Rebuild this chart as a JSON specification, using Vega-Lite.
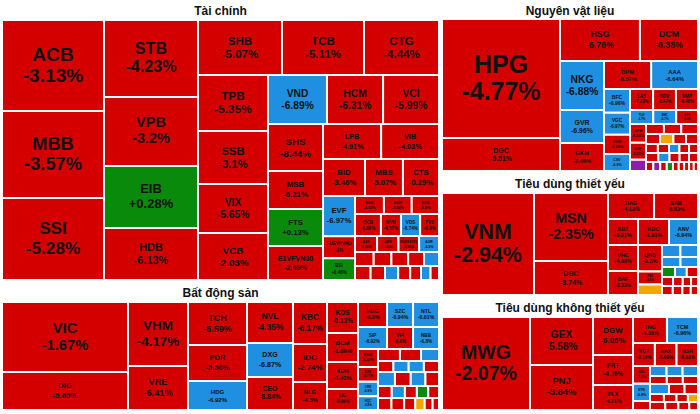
{
"$schema":"https://vega.github.io/schema/vega-lite/v6.json",
"padding":{"left":2,"top":2,"right":2,"bottom":2},
"background":"#ffffff",
"spacing":3,
"resolve":{"scale":{"color":"shared"}},
"config":{"locale":{"number":{"decimal":".","thousands":",","grouping":[3],"currency":["$",""],"minus":"-"}},"view":{"fill":"#f2f2f2","stroke":null},"axis":{"disable":true},"legend":{"disable":true},"range":{"category":["#8b1fa9","#d40000","#1e8fe1","#f7a600","#0a8a0a"]},"text":{"font":"Liberation Sans","fontWeight":"bold","fill":"#111111"},"rect":{"stroke":"#ffffff","strokeWidth":2}},
"data":{"values":[
{"s":"Tài chính","t":"ACB","v":9280,"c":-0.0313,"st":"d"},
{"s":"Tài chính","t":"MBB","v":8870,"c":-0.0357,"st":"d"},
{"s":"Tài chính","t":"SSI","v":8360,"c":-0.0528,"st":"d"},
{"s":"Tài chính","t":"STB","v":7240,"c":-0.0423,"st":"d"},
{"s":"Tài chính","t":"VPB","v":6490,"c":-0.032,"st":"d"},
{"s":"Tài chính","t":"EIB","v":5830,"c":0.0028,"st":"u"},
{"s":"Tài chính","t":"HDB","v":4890,"c":-0.0613,"st":"d"},
{"s":"Tài chính","t":"SHB","v":4620,"c":-0.0507,"st":"d"},
{"s":"Tài chính","t":"TCB","v":4510,"c":-0.0511,"st":"d"},
{"s":"Tài chính","t":"CTG","v":4125,"c":-0.0444,"st":"d"},
{"s":"Tài chính","t":"TPB","v":3920,"c":-0.0535,"st":"d"},
{"s":"Tài chính","t":"SSB","v":3710,"c":-0.031,"st":"d"},
{"s":"Tài chính","t":"VIX","v":3430,"c":-0.0565,"st":"d"},
{"s":"Tài chính","t":"VCB","v":3290,"c":-0.0203,"st":"d"},
{"s":"Tài chính","t":"VND","v":2890,"c":-0.0689,"st":"f"},
{"s":"Tài chính","t":"HCM","v":2750,"c":-0.0631,"st":"d"},
{"s":"Tài chính","t":"VCI","v":2740,"c":-0.0599,"st":"d"},
{"s":"Tài chính","t":"SHS","v":2585,"c":-0.0844,"st":"d"},
{"s":"Tài chính","t":"MSB","v":2090,"c":-0.0621,"st":"d"},
{"s":"Tài chính","t":"FTS","v":2035,"c":0.0013,"st":"u"},
{"s":"Tài chính","t":"E1VFVN30","v":1870,"c":-0.0269,"st":"d"},
{"s":"Tài chính","t":"LPB","v":1860,"c":-0.0491,"st":"d"},
{"s":"Tài chính","t":"VIB","v":1850,"c":-0.0403,"st":"d"},
{"s":"Tài chính","t":"BID","v":1550,"c":-0.0346,"st":"d"},
{"s":"Tài chính","t":"MBS","v":1400,"c":-0.0507,"st":"d"},
{"s":"Tài chính","t":"CTS","v":1330,"c":-0.0029,"st":"d"},
{"s":"Tài chính","t":"EVF","v":1280,"c":-0.0697,"st":"f"},
{"s":"Tài chính","t":"FUEVFVND","v":700,"c":-0.03,"st":"d"},
{"s":"Tài chính","t":"BSI","v":690,"c":0.0046,"st":"u"},
{"s":"Tài chính","t":"NAB","v":520,"c":-0.0492,"st":"d"},
{"s":"Tài chính","t":"BVH","v":500,"c":-0.0384,"st":"d"},
{"s":"Tài chính","t":"BVS","v":490,"c":-0.058,"st":"d"},
{"s":"Tài chính","t":"OCB","v":440,"c":-0.0666,"st":"d"},
{"s":"Tài chính","t":"BVB","v":340,"c":-0.0657,"st":"d"},
{"s":"Tài chính","t":"VDS","v":325,"c":-0.0674,"st":"f"},
{"s":"Tài chính","t":"TVS","v":320,"c":-0.069,"st":"d"},
{"s":"Tài chính","t":"AAS","v":300,"c":-0.0686,"st":"d"},
{"s":"Tài chính","t":"ABB","v":290,"c":-0.065,"st":"d"},
{"s":"Tài chính","t":"FUESSVFL","v":280,"c":-0.0585,"st":"d"},
{"s":"Tài chính","t":"AGR","v":270,"c":-0.069,"st":"f"},
{"s":"Tài chính","t":"MIG","v":200,"c":-0.06,"st":"d"},
{"s":"Tài chính","t":"PVI","v":190,"c":-0.05,"st":"d"},
{"s":"Tài chính","t":"KLB","v":180,"c":-0.05,"st":"d"},
{"s":"Tài chính","t":"BIC","v":170,"c":-0.06,"st":"d"},
{"s":"Tài chính","t":"VAB","v":160,"c":-0.068,"st":"f"},
{"s":"Tài chính","t":"NVB","v":130,"c":-0.07,"st":"d"},
{"s":"Tài chính","t":"SGB","v":120,"c":-0.05,"st":"d"},
{"s":"Tài chính","t":"PGI","v":110,"c":-0.069,"st":"f"},
{"s":"Tài chính","t":"TVB","v":100,"c":-0.06,"st":"d"},
{"s":"Tài chính","t":"BMI","v":90,"c":-0.06,"st":"d"},
{"s":"Tài chính","t":"ORS","v":80,"c":-0.069,"st":"f"},
{"s":"Tài chính","t":"APG","v":70,"c":-0.06,"st":"d"},
{"s":"Bất động sản","t":"VIC","v":8820,"c":-0.0167,"st":"d"},
{"s":"Bất động sản","t":"DIG","v":4790,"c":-0.0565,"st":"d"},
{"s":"Bất động sản","t":"VHM","v":3840,"c":-0.0417,"st":"d"},
{"s":"Bất động sản","t":"VRE","v":2640,"c":-0.0641,"st":"d"},
{"s":"Bất động sản","t":"TCH","v":2540,"c":-0.0659,"st":"d"},
{"s":"Bất động sản","t":"PDR","v":2125,"c":-0.0556,"st":"d"},
{"s":"Bất động sản","t":"HDG","v":1710,"c":-0.0692,"st":"f"},
{"s":"Bất động sản","t":"NVL","v":1700,"c":-0.0435,"st":"d"},
{"s":"Bất động sản","t":"DXG","v":1410,"c":-0.0687,"st":"f"},
{"s":"Bất động sản","t":"CEO","v":1370,"c":-0.0884,"st":"d"},
{"s":"Bất động sản","t":"KBC","v":1360,"c":-0.0617,"st":"d"},
{"s":"Bất động sản","t":"IDC","v":1230,"c":-0.0274,"st":"d"},
{"s":"Bất động sản","t":"NLG","v":905,"c":-0.043,"st":"d"},
{"s":"Bất động sản","t":"KOS","v":900,"c":-0.0013,"st":"d"},
{"s":"Bất động sản","t":"BCM","v":842,"c":-0.0189,"st":"d"},
{"s":"Bất động sản","t":"KDH","v":784,"c":-0.0143,"st":"d"},
{"s":"Bất động sản","t":"LIC","v":610,"c":-0.0699,"st":"d"},
{"s":"Bất động sản","t":"HDC","v":600,"c":-0.065,"st":"d"},
{"s":"Bất động sản","t":"SZC","v":538,"c":-0.0694,"st":"f"},
{"s":"Bất động sản","t":"NTL","v":536,"c":-0.0681,"st":"f"},
{"s":"Bất động sản","t":"SIP","v":530,"c":-0.0692,"st":"f"},
{"s":"Bất động sản","t":"VPI","v":475,"c":-0.066,"st":"d"},
{"s":"Bất động sản","t":"NBB","v":473,"c":-0.068,"st":"f"},
{"s":"Bất động sản","t":"KHG","v":340,"c":-0.0661,"st":"d"},
{"s":"Bất động sản","t":"DXS","v":280,"c":-0.0677,"st":"d"},
{"s":"Bất động sản","t":"CRE","v":275,"c":-0.069,"st":"f"},
{"s":"Bất động sản","t":"HQC","v":260,"c":-0.068,"st":"f"},
{"s":"Bất động sản","t":"NHA","v":250,"c":-0.06,"st":"d"},
{"s":"Bất động sản","t":"ITC","v":240,"c":-0.06,"st":"d"},
{"s":"Bất động sản","t":"TDC","v":205,"c":-0.069,"st":"f"},
{"s":"Bất động sản","t":"SCR","v":165,"c":-0.06,"st":"d"},
{"s":"Bất động sản","t":"HPX","v":164,"c":-0.069,"st":"f"},
{"s":"Bất động sản","t":"QCG","v":163,"c":-0.069,"st":"f"},
{"s":"Bất động sản","t":"DRH","v":162,"c":-0.06,"st":"d"},
{"s":"Bất động sản","t":"LDG","v":150,"c":-0.069,"st":"f"},
{"s":"Bất động sản","t":"CKG","v":140,"c":-0.06,"st":"d"},
{"s":"Bất động sản","t":"NTC","v":130,"c":-0.069,"st":"f"},
{"s":"Bất động sản","t":"AGG","v":120,"c":-0.06,"st":"d"},
{"s":"Bất động sản","t":"HAR","v":115,"c":-0.06,"st":"d"},
{"s":"Bất động sản","t":"TIG","v":110,"c":-0.069,"st":"f"},
{"s":"Bất động sản","t":"DPG","v":100,"c":-0.06,"st":"d"},
{"s":"Bất động sản","t":"VRC","v":95,"c":0.02,"st":"u"},
{"s":"Bất động sản","t":"SJS","v":90,"c":-0.06,"st":"d"},
{"s":"Bất động sản","t":"PTL","v":85,"c":-0.06,"st":"d"},
{"s":"Bất động sản","t":"API","v":80,"c":-0.06,"st":"d"},
{"s":"Bất động sản","t":"HLD","v":70,"c":-0.06,"st":"d"},
{"s":"Bất động sản","t":"IJC","v":60,"c":0,"st":"r"},
{"s":"Bất động sản","t":"D2D","v":50,"c":-0.06,"st":"d"},
{"s":"Bất động sản","t":"LGL","v":40,"c":-0.06,"st":"d"},
{"s":"Nguyên vật liệu","t":"HPG","v":14040,"c":-0.0477,"st":"d"},
{"s":"Nguyên vật liệu","t":"DGC","v":3890,"c":-0.0551,"st":"d"},
{"s":"Nguyên vật liệu","t":"HSG","v":3360,"c":-0.0676,"st":"d"},
{"s":"Nguyên vật liệu","t":"DCM","v":2440,"c":-0.0638,"st":"d"},
{"s":"Nguyên vật liệu","t":"NKG","v":2160,"c":-0.0688,"st":"f"},
{"s":"Nguyên vật liệu","t":"GVR","v":1450,"c":-0.0696,"st":"f"},
{"s":"Nguyên vật liệu","t":"GKM","v":1230,"c":-0.0246,"st":"d"},
{"s":"Nguyên vật liệu","t":"DPM","v":1220,"c":-0.0657,"st":"d"},
{"s":"Nguyên vật liệu","t":"AAA","v":1210,"c":-0.0664,"st":"f"},
{"s":"Nguyên vật liệu","t":"BFC","v":620,"c":-0.0696,"st":"f"},
{"s":"Nguyên vật liệu","t":"VGC","v":570,"c":-0.0697,"st":"f"},
{"s":"Nguyên vật liệu","t":"VGS","v":500,"c":-0.0659,"st":"d"},
{"s":"Nguyên vật liệu","t":"CSV","v":440,"c":-0.069,"st":"f"},
{"s":"Nguyên vật liệu","t":"LAS","v":430,"c":-0.0723,"st":"d"},
{"s":"Nguyên vật liệu","t":"DDV","v":425,"c":-0.0647,"st":"d"},
{"s":"Nguyên vật liệu","t":"BMP","v":410,"c":-0.0648,"st":"d"},
{"s":"Nguyên vật liệu","t":"TLH","v":320,"c":-0.067,"st":"f"},
{"s":"Nguyên vật liệu","t":"SMC","v":315,"c":-0.067,"st":"f"},
{"s":"Nguyên vật liệu","t":"HT1","v":300,"c":-0.068,"st":"d"},
{"s":"Nguyên vật liệu","t":"APH","v":295,"c":-0.0666,"st":"d"},
{"s":"Nguyên vật liệu","t":"DHP","v":265,"c":-0.0501,"st":"d"},
{"s":"Nguyên vật liệu","t":"TNI","v":175,"c":0.069,"st":"c"},
{"s":"Nguyên vật liệu","t":"HAP","v":150,"c":-0.06,"st":"d"},
{"s":"Nguyên vật liệu","t":"NHH","v":145,"c":-0.06,"st":"d"},
{"s":"Nguyên vật liệu","t":"TDP","v":140,"c":-0.06,"st":"d"},
{"s":"Nguyên vật liệu","t":"PHR","v":100,"c":-0.06,"st":"d"},
{"s":"Nguyên vật liệu","t":"DPR","v":95,"c":0,"st":"r"},
{"s":"Nguyên vật liệu","t":"DHA","v":90,"c":-0.06,"st":"d"},
{"s":"Nguyên vật liệu","t":"TVN","v":85,"c":-0.06,"st":"d"},
{"s":"Nguyên vật liệu","t":"CSM","v":80,"c":-0.06,"st":"d"},
{"s":"Nguyên vật liệu","t":"DRC","v":75,"c":-0.06,"st":"d"},
{"s":"Nguyên vật liệu","t":"TLD","v":70,"c":-0.069,"st":"f"},
{"s":"Nguyên vật liệu","t":"SVT","v":65,"c":-0.06,"st":"d"},
{"s":"Nguyên vật liệu","t":"HII","v":60,"c":-0.06,"st":"d"},
{"s":"Nguyên vật liệu","t":"PTB","v":55,"c":-0.06,"st":"d"},
{"s":"Nguyên vật liệu","t":"VCA","v":50,"c":-0.069,"st":"f"},
{"s":"Nguyên vật liệu","t":"NNC","v":45,"c":-0.06,"st":"d"},
{"s":"Nguyên vật liệu","t":"ACC","v":42,"c":-0.06,"st":"d"},
{"s":"Nguyên vật liệu","t":"TRC","v":40,"c":-0.06,"st":"d"},
{"s":"Nguyên vật liệu","t":"KSB","v":38,"c":-0.06,"st":"d"},
{"s":"Nguyên vật liệu","t":"SFG","v":36,"c":0.069,"st":"c"},
{"s":"Nguyên vật liệu","t":"HVX","v":34,"c":-0.06,"st":"d"},
{"s":"Nguyên vật liệu","t":"TSC","v":32,"c":0.02,"st":"u"},
{"s":"Nguyên vật liệu","t":"PLP","v":30,"c":-0.06,"st":"d"},
{"s":"Nguyên vật liệu","t":"QBS","v":28,"c":-0.06,"st":"d"},
{"s":"Nguyên vật liệu","t":"TNT","v":26,"c":-0.06,"st":"d"},
{"s":"Nguyên vật liệu","t":"VID","v":24,"c":-0.06,"st":"d"},
{"s":"Nguyên vật liệu","t":"YBM","v":22,"c":-0.06,"st":"d"},
{"s":"Tiêu dùng thiết yếu","t":"VNM","v":9380,"c":-0.0294,"st":"d"},
{"s":"Tiêu dùng thiết yếu","t":"MSN","v":5030,"c":-0.0235,"st":"d"},
{"s":"Tiêu dùng thiết yếu","t":"DBC","v":2520,"c":-0.0374,"st":"d"},
{"s":"Tiêu dùng thiết yếu","t":"HAG","v":1200,"c":-0.0413,"st":"d"},
{"s":"Tiêu dùng thiết yếu","t":"SAB","v":1145,"c":-0.0563,"st":"d"},
{"s":"Tiêu dùng thiết yếu","t":"SBT","v":780,"c":-0.0391,"st":"d"},
{"s":"Tiêu dùng thiết yếu","t":"VHC","v":775,"c":-0.0469,"st":"d"},
{"s":"Tiêu dùng thiết yếu","t":"BAF","v":720,"c":-0.0333,"st":"d"},
{"s":"Tiêu dùng thiết yếu","t":"KDC","v":700,"c":-0.0191,"st":"d"},
{"s":"Tiêu dùng thiết yếu","t":"ANV","v":655,"c":-0.0694,"st":"f"},
{"s":"Tiêu dùng thiết yếu","t":"QNS","v":620,"c":-0.033,"st":"d"},
{"s":"Tiêu dùng thiết yếu","t":"PAN","v":310,"c":-0.048,"st":"d"},
{"s":"Tiêu dùng thiết yếu","t":"LSS","v":245,"c":0,"st":"r"},
{"s":"Tiêu dùng thiết yếu","t":"IDI","v":230,"c":-0.069,"st":"f"},
{"s":"Tiêu dùng thiết yếu","t":"ASM","v":220,"c":-0.069,"st":"f"},
{"s":"Tiêu dùng thiết yếu","t":"CMX","v":180,"c":-0.069,"st":"f"},
{"s":"Tiêu dùng thiết yếu","t":"FMC","v":170,"c":-0.069,"st":"f"},
{"s":"Tiêu dùng thiết yếu","t":"SAF","v":110,"c":0.02,"st":"u"},
{"s":"Tiêu dùng thiết yếu","t":"HSL","v":100,"c":-0.069,"st":"f"},
{"s":"Tiêu dùng thiết yếu","t":"AAM","v":95,"c":-0.06,"st":"d"},
{"s":"Tiêu dùng thiết yếu","t":"MCM","v":80,"c":-0.06,"st":"d"},
{"s":"Tiêu dùng thiết yếu","t":"SLS","v":70,"c":-0.06,"st":"d"},
{"s":"Tiêu dùng thiết yếu","t":"VLC","v":60,"c":-0.06,"st":"d"},
{"s":"Tiêu dùng thiết yếu","t":"TAR","v":50,"c":-0.06,"st":"d"},
{"s":"Tiêu dùng thiết yếu","t":"LAF","v":45,"c":-0.06,"st":"d"},
{"s":"Tiêu dùng thiết yếu","t":"CAN","v":40,"c":-0.06,"st":"d"},
{"s":"Tiêu dùng thiết yếu","t":"NAF","v":35,"c":-0.06,"st":"d"},
{"s":"Tiêu dùng thiết yếu","t":"VSF","v":30,"c":-0.06,"st":"d"},
{"s":"Tiêu dùng không thiết yếu","t":"MWG","v":8180,"c":-0.0207,"st":"d"},
{"s":"Tiêu dùng không thiết yếu","t":"GEX","v":3020,"c":-0.0558,"st":"d"},
{"s":"Tiêu dùng không thiết yếu","t":"PNJ","v":2835,"c":-0.0384,"st":"d"},
{"s":"Tiêu dùng không thiết yếu","t":"DGW","v":1520,"c":-0.0606,"st":"d"},
{"s":"Tiêu dùng không thiết yếu","t":"FRT","v":1200,"c":-0.0436,"st":"d"},
{"s":"Tiêu dùng không thiết yếu","t":"PLX","v":1000,"c":-0.0421,"st":"d"},
{"s":"Tiêu dùng không thiết yếu","t":"TNG","v":880,"c":-0.0438,"st":"d"},
{"s":"Tiêu dùng không thiết yếu","t":"TCM","v":805,"c":-0.0696,"st":"f"},
{"s":"Tiêu dùng không thiết yếu","t":"VGT","v":470,"c":-0.0214,"st":"d"},
{"s":"Tiêu dùng không thiết yếu","t":"HAX","v":465,"c":-0.0569,"st":"d"},
{"s":"Tiêu dùng không thiết yếu","t":"MSH","v":460,"c":-0.0608,"st":"d"},
{"s":"Tiêu dùng không thiết yếu","t":"GIL","v":300,"c":-0.031,"st":"d"},
{"s":"Tiêu dùng không thiết yếu","t":"STK","v":290,"c":-0.069,"st":"f"},
{"s":"Tiêu dùng không thiết yếu","t":"TTF","v":150,"c":-0.06,"st":"d"},
{"s":"Tiêu dùng không thiết yếu","t":"HTG","v":145,"c":-0.069,"st":"f"},
{"s":"Tiêu dùng không thiết yếu","t":"SVC","v":140,"c":-0.069,"st":"f"},
{"s":"Tiêu dùng không thiết yếu","t":"CTF","v":135,"c":-0.069,"st":"f"},
{"s":"Tiêu dùng không thiết yếu","t":"EVE","v":100,"c":-0.06,"st":"d"},
{"s":"Tiêu dùng không thiết yếu","t":"SAM","v":95,"c":-0.06,"st":"d"},
{"s":"Tiêu dùng không thiết yếu","t":"VPG","v":90,"c":-0.06,"st":"d"},
{"s":"Tiêu dùng không thiết yếu","t":"TMT","v":85,"c":-0.069,"st":"f"},
{"s":"Tiêu dùng không thiết yếu","t":"HHS","v":70,"c":-0.06,"st":"d"},
{"s":"Tiêu dùng không thiết yếu","t":"PET","v":60,"c":-0.06,"st":"d"},
{"s":"Tiêu dùng không thiết yếu","t":"GMC","v":55,"c":-0.06,"st":"d"},
{"s":"Tiêu dùng không thiết yếu","t":"HTL","v":50,"c":-0.06,"st":"d"},
{"s":"Tiêu dùng không thiết yếu","t":"FTM","v":45,"c":-0.06,"st":"d"},
{"s":"Tiêu dùng không thiết yếu","t":"CLC","v":40,"c":0,"st":"r"},
{"s":"Tiêu dùng không thiết yếu","t":"TDG","v":35,"c":-0.06,"st":"d"},
{"s":"Tiêu dùng không thiết yếu","t":"DAH","v":30,"c":-0.06,"st":"d"},
{"s":"Tiêu dùng không thiết yếu","t":"HVH","v":25,"c":-0.06,"st":"d"},
{"s":"Tiêu dùng không thiết yếu","t":"SGT","v":20,"c":-0.06,"st":"d"}
]},
"hconcat":[
{"spacing":4,"vconcat":[
{"transform":[{"filter":{"field":"s","equal":"Tài chính"}},{"window":[{"op":"row_number","as":"r"}],"sort":[{"field":"v","order":"descending"}]}],"spacing":0,"vconcat":[
{"width":437,"height":18,"transform":[{"filter":{"field":"r","equal":1}}],"mark":{"type":"text","fontSize":12},"encoding":{"text":{"field":"s"}}},
{"spacing":0,"hconcat":[
{"width":102,"height":260,"transform":[{"filter":{"field":"r","range":[1,3]}},{"stack":"v","groupby":[],"sort":[{"field":"v"}],"offset":"normalize","as":["p0","p1"]}],"layer":[{"mark":{"type":"rect","clip":true},"encoding":{"y":{"field":"p0","type":"quantitative"},"y2":{"field":"p1"},"color":{"field":"st","type":"nominal"}}},{"transform":[{"filter":"datum.v>=250"},{"fold":["p0","p1"],"as":["k","q"]},{"aggregate":[{"op":"mean","field":"q","as":"m"},{"op":"stdevp","field":"q","as":"h"}],"groupby":["t","c","v"]}],"encoding":{"y":{"field":"m","type":"quantitative"}},"layer":[{"mark":{"type":"text","baseline":"bottom","dy":-1,"clip":true,"fontSize":{"expr":"min(109.2*datum.h,150/max(6,length(datum.t)))"}},"encoding":{"text":{"field":"t"}}},{"mark":{"type":"text","baseline":"top","dy":1,"clip":true,"fontSize":{"expr":"min(109.2*datum.h,150/max(6,length(datum.t)))"}},"encoding":{"text":{"field":"c","type":"quantitative","format":"+.2~%"}}}]}]},
{"width":94,"height":260,"transform":[{"filter":{"field":"r","range":[4,7]}},{"stack":"v","groupby":[],"sort":[{"field":"v"}],"offset":"normalize","as":["p0","p1"]}],"layer":[{"mark":{"type":"rect","clip":true},"encoding":{"y":{"field":"p0","type":"quantitative"},"y2":{"field":"p1"},"color":{"field":"st","type":"nominal"}}},{"transform":[{"filter":"datum.v>=250"},{"fold":["p0","p1"],"as":["k","q"]},{"aggregate":[{"op":"mean","field":"q","as":"m"},{"op":"stdevp","field":"q","as":"h"}],"groupby":["t","c","v"]}],"encoding":{"y":{"field":"m","type":"quantitative"}},"layer":[{"mark":{"type":"text","baseline":"bottom","dy":-1,"clip":true,"fontSize":{"expr":"min(109.2*datum.h,138.2/max(6,length(datum.t)))"}},"encoding":{"text":{"field":"t"}}},{"mark":{"type":"text","baseline":"top","dy":1,"clip":true,"fontSize":{"expr":"min(109.2*datum.h,138.2/max(6,length(datum.t)))"}},"encoding":{"text":{"field":"c","type":"quantitative","format":"+.2~%"}}}]}]},
{"spacing":0,"vconcat":[
{"width":241,"height":55,"transform":[{"filter":{"field":"r","range":[8,10]}},{"stack":"v","groupby":[],"sort":[{"field":"v","order":"descending"}],"offset":"normalize","as":["p0","p1"]}],"layer":[{"mark":{"type":"rect","clip":true},"encoding":{"x":{"field":"p0","type":"quantitative"},"x2":{"field":"p1"},"color":{"field":"st","type":"nominal"}}},{"transform":[{"filter":"datum.v>=250"},{"fold":["p0","p1"],"as":["k","q"]},{"aggregate":[{"op":"mean","field":"q","as":"m"},{"op":"stdevp","field":"q","as":"h"}],"groupby":["t","c","v"]}],"encoding":{"x":{"field":"m","type":"quantitative"}},"layer":[{"mark":{"type":"text","baseline":"bottom","dy":-1,"clip":true,"fontSize":{"expr":"min(11.55,708.5*datum.h/max(6,length(datum.t)))"}},"encoding":{"text":{"field":"t"}}},{"mark":{"type":"text","baseline":"top","dy":1,"clip":true,"fontSize":{"expr":"min(11.55,708.5*datum.h/max(6,length(datum.t)))"}},"encoding":{"text":{"field":"c","type":"quantitative","format":"+.2~%"}}}]}]},
{"spacing":0,"hconcat":[
{"width":70,"height":205,"transform":[{"filter":{"field":"r","range":[11,14]}},{"stack":"v","groupby":[],"sort":[{"field":"v"}],"offset":"normalize","as":["p0","p1"]}],"layer":[{"mark":{"type":"rect","clip":true},"encoding":{"y":{"field":"p0","type":"quantitative"},"y2":{"field":"p1"},"color":{"field":"st","type":"nominal"}}},{"transform":[{"filter":"datum.v>=250"},{"fold":["p0","p1"],"as":["k","q"]},{"aggregate":[{"op":"mean","field":"q","as":"m"},{"op":"stdevp","field":"q","as":"h"}],"groupby":["t","c","v"]}],"encoding":{"y":{"field":"m","type":"quantitative"}},"layer":[{"mark":{"type":"text","baseline":"bottom","dy":-1,"clip":true,"fontSize":{"expr":"min(86.1*datum.h,102.9/max(6,length(datum.t)))"}},"encoding":{"text":{"field":"t"}}},{"mark":{"type":"text","baseline":"top","dy":1,"clip":true,"fontSize":{"expr":"min(86.1*datum.h,102.9/max(6,length(datum.t)))"}},"encoding":{"text":{"field":"c","type":"quantitative","format":"+.2~%"}}}]}]},
{"spacing":0,"vconcat":[
{"width":171,"height":49,"transform":[{"filter":{"field":"r","range":[15,17]}},{"stack":"v","groupby":[],"sort":[{"field":"v","order":"descending"}],"offset":"normalize","as":["p0","p1"]}],"layer":[{"mark":{"type":"rect","clip":true},"encoding":{"x":{"field":"p0","type":"quantitative"},"x2":{"field":"p1"},"color":{"field":"st","type":"nominal"}}},{"transform":[{"filter":"datum.v>=250"},{"fold":["p0","p1"],"as":["k","q"]},{"aggregate":[{"op":"mean","field":"q","as":"m"},{"op":"stdevp","field":"q","as":"h"}],"groupby":["t","c","v"]}],"encoding":{"x":{"field":"m","type":"quantitative"}},"layer":[{"mark":{"type":"text","baseline":"bottom","dy":-1,"clip":true,"fontSize":{"expr":"min(10.29,502.7*datum.h/max(6,length(datum.t)))"}},"encoding":{"text":{"field":"t"}}},{"mark":{"type":"text","baseline":"top","dy":1,"clip":true,"fontSize":{"expr":"min(10.29,502.7*datum.h/max(6,length(datum.t)))"}},"encoding":{"text":{"field":"c","type":"quantitative","format":"+.2~%"}}}]}]},
{"spacing":0,"hconcat":[
{"width":55,"height":156,"transform":[{"filter":{"field":"r","range":[18,21]}},{"stack":"v","groupby":[],"sort":[{"field":"v"}],"offset":"normalize","as":["p0","p1"]}],"layer":[{"mark":{"type":"rect","clip":true},"encoding":{"y":{"field":"p0","type":"quantitative"},"y2":{"field":"p1"},"color":{"field":"st","type":"nominal"}}},{"transform":[{"filter":"datum.v>=250"},{"fold":["p0","p1"],"as":["k","q"]},{"aggregate":[{"op":"mean","field":"q","as":"m"},{"op":"stdevp","field":"q","as":"h"}],"groupby":["t","c","v"]}],"encoding":{"y":{"field":"m","type":"quantitative"}},"layer":[{"mark":{"type":"text","baseline":"bottom","dy":-1,"clip":true,"fontSize":{"expr":"min(65.5*datum.h,80.9/max(6,length(datum.t)))"}},"encoding":{"text":{"field":"t"}}},{"mark":{"type":"text","baseline":"top","dy":1,"clip":true,"fontSize":{"expr":"min(65.5*datum.h,80.9/max(6,length(datum.t)))"}},"encoding":{"text":{"field":"c","type":"quantitative","format":"+.2~%"}}}]}]},
{"spacing":0,"vconcat":[
{"width":116,"height":35,"transform":[{"filter":{"field":"r","range":[22,23]}},{"stack":"v","groupby":[],"sort":[{"field":"v","order":"descending"}],"offset":"normalize","as":["p0","p1"]}],"layer":[{"mark":{"type":"rect","clip":true},"encoding":{"x":{"field":"p0","type":"quantitative"},"x2":{"field":"p1"},"color":{"field":"st","type":"nominal"}}},{"transform":[{"filter":"datum.v>=250"},{"fold":["p0","p1"],"as":["k","q"]},{"aggregate":[{"op":"mean","field":"q","as":"m"},{"op":"stdevp","field":"q","as":"h"}],"groupby":["t","c","v"]}],"encoding":{"x":{"field":"m","type":"quantitative"}},"layer":[{"mark":{"type":"text","baseline":"bottom","dy":-1,"clip":true,"fontSize":{"expr":"min(7.35,341*datum.h/max(6,length(datum.t)))"}},"encoding":{"text":{"field":"t"}}},{"mark":{"type":"text","baseline":"top","dy":1,"clip":true,"fontSize":{"expr":"min(7.35,341*datum.h/max(6,length(datum.t)))"}},"encoding":{"text":{"field":"c","type":"quantitative","format":"+.2~%"}}}]}]},
{"width":116,"height":37,"transform":[{"filter":{"field":"r","range":[24,26]}},{"stack":"v","groupby":[],"sort":[{"field":"v","order":"descending"}],"offset":"normalize","as":["p0","p1"]}],"layer":[{"mark":{"type":"rect","clip":true},"encoding":{"x":{"field":"p0","type":"quantitative"},"x2":{"field":"p1"},"color":{"field":"st","type":"nominal"}}},{"transform":[{"filter":"datum.v>=250"},{"fold":["p0","p1"],"as":["k","q"]},{"aggregate":[{"op":"mean","field":"q","as":"m"},{"op":"stdevp","field":"q","as":"h"}],"groupby":["t","c","v"]}],"encoding":{"x":{"field":"m","type":"quantitative"}},"layer":[{"mark":{"type":"text","baseline":"bottom","dy":-1,"clip":true,"fontSize":{"expr":"min(7.77,341*datum.h/max(6,length(datum.t)))"}},"encoding":{"text":{"field":"t"}}},{"mark":{"type":"text","baseline":"top","dy":1,"clip":true,"fontSize":{"expr":"min(7.77,341*datum.h/max(6,length(datum.t)))"}},"encoding":{"text":{"field":"c","type":"quantitative","format":"+.2~%"}}}]}]},
{"spacing":0,"hconcat":[
{"width":32,"height":84,"transform":[{"filter":{"field":"r","range":[27,29]}},{"stack":"v","groupby":[],"sort":[{"field":"v"}],"offset":"normalize","as":["p0","p1"]}],"layer":[{"mark":{"type":"rect","clip":true},"encoding":{"y":{"field":"p0","type":"quantitative"},"y2":{"field":"p1"},"color":{"field":"st","type":"nominal"}}},{"transform":[{"filter":"datum.v>=250"},{"fold":["p0","p1"],"as":["k","q"]},{"aggregate":[{"op":"mean","field":"q","as":"m"},{"op":"stdevp","field":"q","as":"h"}],"groupby":["t","c","v"]}],"encoding":{"y":{"field":"m","type":"quantitative"}},"layer":[{"mark":{"type":"text","baseline":"bottom","dy":-1,"clip":true,"fontSize":{"expr":"min(35.3*datum.h,47/max(6,length(datum.t)))"}},"encoding":{"text":{"field":"t"}}},{"mark":{"type":"text","baseline":"top","dy":1,"clip":true,"fontSize":{"expr":"min(35.3*datum.h,47/max(6,length(datum.t)))"}},"encoding":{"text":{"field":"c","type":"quantitative","format":"+.2~%"}}}]}]},
{"spacing":0,"vconcat":[
{"width":84,"height":18,"transform":[{"filter":{"field":"r","range":[30,32]}},{"stack":"v","groupby":[],"sort":[{"field":"v","order":"descending"}],"offset":"normalize","as":["p0","p1"]}],"layer":[{"mark":{"type":"rect","clip":true},"encoding":{"x":{"field":"p0","type":"quantitative"},"x2":{"field":"p1"},"color":{"field":"st","type":"nominal"}}},{"transform":[{"filter":"datum.v>=250"},{"fold":["p0","p1"],"as":["k","q"]},{"aggregate":[{"op":"mean","field":"q","as":"m"},{"op":"stdevp","field":"q","as":"h"}],"groupby":["t","c","v"]}],"encoding":{"x":{"field":"m","type":"quantitative"}},"layer":[{"mark":{"type":"text","baseline":"bottom","dy":-0.5,"clip":true,"fontSize":{"expr":"min(3.78,247*datum.h/max(6,length(datum.t)))"}},"encoding":{"text":{"field":"t"}}},{"mark":{"type":"text","baseline":"top","dy":0.5,"clip":true,"fontSize":{"expr":"min(3.78,247*datum.h/max(6,length(datum.t)))"}},"encoding":{"text":{"field":"c","type":"quantitative","format":"+.2~%"}}}]}]},
{"width":84,"height":22,"transform":[{"filter":{"field":"r","range":[33,36]}},{"stack":"v","groupby":[],"sort":[{"field":"v","order":"descending"}],"offset":"normalize","as":["p0","p1"]}],"layer":[{"mark":{"type":"rect","clip":true},"encoding":{"x":{"field":"p0","type":"quantitative"},"x2":{"field":"p1"},"color":{"field":"st","type":"nominal"}}},{"transform":[{"filter":"datum.v>=250"},{"fold":["p0","p1"],"as":["k","q"]},{"aggregate":[{"op":"mean","field":"q","as":"m"},{"op":"stdevp","field":"q","as":"h"}],"groupby":["t","c","v"]}],"encoding":{"x":{"field":"m","type":"quantitative"}},"layer":[{"mark":{"type":"text","baseline":"bottom","dy":-0.5,"clip":true,"fontSize":{"expr":"min(4.62,247*datum.h/max(6,length(datum.t)))"}},"encoding":{"text":{"field":"t"}}},{"mark":{"type":"text","baseline":"top","dy":0.5,"clip":true,"fontSize":{"expr":"min(4.62,247*datum.h/max(6,length(datum.t)))"}},"encoding":{"text":{"field":"c","type":"quantitative","format":"+.2~%"}}}]}]},
{"width":84,"height":16,"transform":[{"filter":{"field":"r","range":[37,40]}},{"stack":"v","groupby":[],"sort":[{"field":"v","order":"descending"}],"offset":"normalize","as":["p0","p1"]}],"layer":[{"mark":{"type":"rect","clip":true},"encoding":{"x":{"field":"p0","type":"quantitative"},"x2":{"field":"p1"},"color":{"field":"st","type":"nominal"}}},{"transform":[{"filter":"datum.v>=250"},{"fold":["p0","p1"],"as":["k","q"]},{"aggregate":[{"op":"mean","field":"q","as":"m"},{"op":"stdevp","field":"q","as":"h"}],"groupby":["t","c","v"]}],"encoding":{"x":{"field":"m","type":"quantitative"}},"layer":[{"mark":{"type":"text","baseline":"bottom","dy":-0.5,"clip":true,"fontSize":{"expr":"min(3.36,247*datum.h/max(6,length(datum.t)))"}},"encoding":{"text":{"field":"t"}}},{"mark":{"type":"text","baseline":"top","dy":0.5,"clip":true,"fontSize":{"expr":"min(3.36,247*datum.h/max(6,length(datum.t)))"}},"encoding":{"text":{"field":"c","type":"quantitative","format":"+.2~%"}}}]}]},
{"width":84,"height":14,"transform":[{"filter":{"field":"r","range":[41,45]}},{"stack":"v","groupby":[],"sort":[{"field":"v","order":"descending"}],"offset":"normalize","as":["p0","p1"]}],"mark":{"type":"rect","clip":true},"encoding":{"x":{"field":"p0","type":"quantitative"},"x2":{"field":"p1"},"color":{"field":"st","type":"nominal"}}},
{"width":84,"height":14,"transform":[{"filter":{"field":"r","range":[46,52]}},{"stack":"v","groupby":[],"sort":[{"field":"v","order":"descending"}],"offset":"normalize","as":["p0","p1"]}],"mark":{"type":"rect","clip":true},"encoding":{"x":{"field":"p0","type":"quantitative"},"x2":{"field":"p1"},"color":{"field":"st","type":"nominal"}}}
]}]}]}]}]}]}]}]}]},
{"transform":[{"filter":{"field":"s","equal":"Bất động sản"}},{"window":[{"op":"row_number","as":"r"}],"sort":[{"field":"v","order":"descending"}]}],"spacing":0,"vconcat":[
{"width":437,"height":18,"transform":[{"filter":{"field":"r","equal":1}}],"mark":{"type":"text","fontSize":12},"encoding":{"text":{"field":"s"}}},
{"spacing":0,"hconcat":[
{"width":126,"height":108,"transform":[{"filter":{"field":"r","range":[1,2]}},{"stack":"v","groupby":[],"sort":[{"field":"v"}],"offset":"normalize","as":["p0","p1"]}],"layer":[{"mark":{"type":"rect","clip":true},"encoding":{"y":{"field":"p0","type":"quantitative"},"y2":{"field":"p1"},"color":{"field":"st","type":"nominal"}}},{"transform":[{"filter":"datum.v>=250"},{"fold":["p0","p1"],"as":["k","q"]},{"aggregate":[{"op":"mean","field":"q","as":"m"},{"op":"stdevp","field":"q","as":"h"}],"groupby":["t","c","v"]}],"encoding":{"y":{"field":"m","type":"quantitative"}},"layer":[{"mark":{"type":"text","baseline":"bottom","dy":-1,"clip":true,"fontSize":{"expr":"min(45.4*datum.h,185.2/max(6,length(datum.t)))"}},"encoding":{"text":{"field":"t"}}},{"mark":{"type":"text","baseline":"top","dy":1,"clip":true,"fontSize":{"expr":"min(45.4*datum.h,185.2/max(6,length(datum.t)))"}},"encoding":{"text":{"field":"c","type":"quantitative","format":"+.2~%"}}}]}]},
{"width":60,"height":108,"transform":[{"filter":{"field":"r","range":[3,4]}},{"stack":"v","groupby":[],"sort":[{"field":"v"}],"offset":"normalize","as":["p0","p1"]}],"layer":[{"mark":{"type":"rect","clip":true},"encoding":{"y":{"field":"p0","type":"quantitative"},"y2":{"field":"p1"},"color":{"field":"st","type":"nominal"}}},{"transform":[{"filter":"datum.v>=250"},{"fold":["p0","p1"],"as":["k","q"]},{"aggregate":[{"op":"mean","field":"q","as":"m"},{"op":"stdevp","field":"q","as":"h"}],"groupby":["t","c","v"]}],"encoding":{"y":{"field":"m","type":"quantitative"}},"layer":[{"mark":{"type":"text","baseline":"bottom","dy":-1,"clip":true,"fontSize":{"expr":"min(45.4*datum.h,88.2/max(6,length(datum.t)))"}},"encoding":{"text":{"field":"t"}}},{"mark":{"type":"text","baseline":"top","dy":1,"clip":true,"fontSize":{"expr":"min(45.4*datum.h,88.2/max(6,length(datum.t)))"}},"encoding":{"text":{"field":"c","type":"quantitative","format":"+.2~%"}}}]}]},
{"width":59,"height":108,"transform":[{"filter":{"field":"r","range":[5,7]}},{"stack":"v","groupby":[],"sort":[{"field":"v"}],"offset":"normalize","as":["p0","p1"]}],"layer":[{"mark":{"type":"rect","clip":true},"encoding":{"y":{"field":"p0","type":"quantitative"},"y2":{"field":"p1"},"color":{"field":"st","type":"nominal"}}},{"transform":[{"filter":"datum.v>=250"},{"fold":["p0","p1"],"as":["k","q"]},{"aggregate":[{"op":"mean","field":"q","as":"m"},{"op":"stdevp","field":"q","as":"h"}],"groupby":["t","c","v"]}],"encoding":{"y":{"field":"m","type":"quantitative"}},"layer":[{"mark":{"type":"text","baseline":"bottom","dy":-1,"clip":true,"fontSize":{"expr":"min(45.4*datum.h,86.7/max(6,length(datum.t)))"}},"encoding":{"text":{"field":"t"}}},{"mark":{"type":"text","baseline":"top","dy":1,"clip":true,"fontSize":{"expr":"min(45.4*datum.h,86.7/max(6,length(datum.t)))"}},"encoding":{"text":{"field":"c","type":"quantitative","format":"+.2~%"}}}]}]},
{"width":46,"height":108,"transform":[{"filter":{"field":"r","range":[8,10]}},{"stack":"v","groupby":[],"sort":[{"field":"v"}],"offset":"normalize","as":["p0","p1"]}],"layer":[{"mark":{"type":"rect","clip":true},"encoding":{"y":{"field":"p0","type":"quantitative"},"y2":{"field":"p1"},"color":{"field":"st","type":"nominal"}}},{"transform":[{"filter":"datum.v>=250"},{"fold":["p0","p1"],"as":["k","q"]},{"aggregate":[{"op":"mean","field":"q","as":"m"},{"op":"stdevp","field":"q","as":"h"}],"groupby":["t","c","v"]}],"encoding":{"y":{"field":"m","type":"quantitative"}},"layer":[{"mark":{"type":"text","baseline":"bottom","dy":-1,"clip":true,"fontSize":{"expr":"min(45.4*datum.h,67.6/max(6,length(datum.t)))"}},"encoding":{"text":{"field":"t"}}},{"mark":{"type":"text","baseline":"top","dy":1,"clip":true,"fontSize":{"expr":"min(45.4*datum.h,67.6/max(6,length(datum.t)))"}},"encoding":{"text":{"field":"c","type":"quantitative","format":"+.2~%"}}}]}]},
{"width":34,"height":108,"transform":[{"filter":{"field":"r","range":[11,13]}},{"stack":"v","groupby":[],"sort":[{"field":"v"}],"offset":"normalize","as":["p0","p1"]}],"layer":[{"mark":{"type":"rect","clip":true},"encoding":{"y":{"field":"p0","type":"quantitative"},"y2":{"field":"p1"},"color":{"field":"st","type":"nominal"}}},{"transform":[{"filter":"datum.v>=250"},{"fold":["p0","p1"],"as":["k","q"]},{"aggregate":[{"op":"mean","field":"q","as":"m"},{"op":"stdevp","field":"q","as":"h"}],"groupby":["t","c","v"]}],"encoding":{"y":{"field":"m","type":"quantitative"}},"layer":[{"mark":{"type":"text","baseline":"bottom","dy":-1,"clip":true,"fontSize":{"expr":"min(45.4*datum.h,50/max(6,length(datum.t)))"}},"encoding":{"text":{"field":"t"}}},{"mark":{"type":"text","baseline":"top","dy":1,"clip":true,"fontSize":{"expr":"min(45.4*datum.h,50/max(6,length(datum.t)))"}},"encoding":{"text":{"field":"c","type":"quantitative","format":"+.2~%"}}}]}]},
{"width":31,"height":108,"transform":[{"filter":{"field":"r","range":[14,17]}},{"stack":"v","groupby":[],"sort":[{"field":"v"}],"offset":"normalize","as":["p0","p1"]}],"layer":[{"mark":{"type":"rect","clip":true},"encoding":{"y":{"field":"p0","type":"quantitative"},"y2":{"field":"p1"},"color":{"field":"st","type":"nominal"}}},{"transform":[{"filter":"datum.v>=250"},{"fold":["p0","p1"],"as":["k","q"]},{"aggregate":[{"op":"mean","field":"q","as":"m"},{"op":"stdevp","field":"q","as":"h"}],"groupby":["t","c","v"]}],"encoding":{"y":{"field":"m","type":"quantitative"}},"layer":[{"mark":{"type":"text","baseline":"bottom","dy":-1,"clip":true,"fontSize":{"expr":"min(45.4*datum.h,45.6/max(6,length(datum.t)))"}},"encoding":{"text":{"field":"t"}}},{"mark":{"type":"text","baseline":"top","dy":1,"clip":true,"fontSize":{"expr":"min(45.4*datum.h,45.6/max(6,length(datum.t)))"}},"encoding":{"text":{"field":"c","type":"quantitative","format":"+.2~%"}}}]}]},
{"spacing":0,"vconcat":[
{"width":81,"height":25,"transform":[{"filter":{"field":"r","range":[18,20]}},{"stack":"v","groupby":[],"sort":[{"field":"v","order":"descending"}],"offset":"normalize","as":["p0","p1"]}],"layer":[{"mark":{"type":"rect","clip":true},"encoding":{"x":{"field":"p0","type":"quantitative"},"x2":{"field":"p1"},"color":{"field":"st","type":"nominal"}}},{"transform":[{"filter":"datum.v>=250"},{"fold":["p0","p1"],"as":["k","q"]},{"aggregate":[{"op":"mean","field":"q","as":"m"},{"op":"stdevp","field":"q","as":"h"}],"groupby":["t","c","v"]}],"encoding":{"x":{"field":"m","type":"quantitative"}},"layer":[{"mark":{"type":"text","baseline":"bottom","dy":-0.5,"clip":true,"fontSize":{"expr":"min(5.25,238*datum.h/max(6,length(datum.t)))"}},"encoding":{"text":{"field":"t"}}},{"mark":{"type":"text","baseline":"top","dy":0.5,"clip":true,"fontSize":{"expr":"min(5.25,238*datum.h/max(6,length(datum.t)))"}},"encoding":{"text":{"field":"c","type":"quantitative","format":"+.2~%"}}}]}]},
{"width":81,"height":22,"transform":[{"filter":{"field":"r","range":[21,23]}},{"stack":"v","groupby":[],"sort":[{"field":"v","order":"descending"}],"offset":"normalize","as":["p0","p1"]}],"layer":[{"mark":{"type":"rect","clip":true},"encoding":{"x":{"field":"p0","type":"quantitative"},"x2":{"field":"p1"},"color":{"field":"st","type":"nominal"}}},{"transform":[{"filter":"datum.v>=250"},{"fold":["p0","p1"],"as":["k","q"]},{"aggregate":[{"op":"mean","field":"q","as":"m"},{"op":"stdevp","field":"q","as":"h"}],"groupby":["t","c","v"]}],"encoding":{"x":{"field":"m","type":"quantitative"}},"layer":[{"mark":{"type":"text","baseline":"bottom","dy":-0.5,"clip":true,"fontSize":{"expr":"min(4.62,238*datum.h/max(6,length(datum.t)))"}},"encoding":{"text":{"field":"t"}}},{"mark":{"type":"text","baseline":"top","dy":0.5,"clip":true,"fontSize":{"expr":"min(4.62,238*datum.h/max(6,length(datum.t)))"}},"encoding":{"text":{"field":"c","type":"quantitative","format":"+.2~%"}}}]}]},
{"spacing":0,"hconcat":[
{"width":20,"height":61,"transform":[{"filter":{"field":"r","range":[24,27]}},{"stack":"v","groupby":[],"sort":[{"field":"v"}],"offset":"normalize","as":["p0","p1"]}],"layer":[{"mark":{"type":"rect","clip":true},"encoding":{"y":{"field":"p0","type":"quantitative"},"y2":{"field":"p1"},"color":{"field":"st","type":"nominal"}}},{"transform":[{"filter":"datum.v>=250"},{"fold":["p0","p1"],"as":["k","q"]},{"aggregate":[{"op":"mean","field":"q","as":"m"},{"op":"stdevp","field":"q","as":"h"}],"groupby":["t","c","v"]}],"encoding":{"y":{"field":"m","type":"quantitative"}},"layer":[{"mark":{"type":"text","baseline":"bottom","dy":-0.5,"clip":true,"fontSize":{"expr":"min(25.6*datum.h,29.4/max(6,length(datum.t)))"}},"encoding":{"text":{"field":"t"}}},{"mark":{"type":"text","baseline":"top","dy":0.5,"clip":true,"fontSize":{"expr":"min(25.6*datum.h,29.4/max(6,length(datum.t)))"}},"encoding":{"text":{"field":"c","type":"quantitative","format":"+.2~%"}}}]}]},
{"spacing":0,"vconcat":[
{"width":61,"height":12,"transform":[{"filter":{"field":"r","range":[28,30]}},{"stack":"v","groupby":[],"sort":[{"field":"v","order":"descending"}],"offset":"normalize","as":["p0","p1"]}],"mark":{"type":"rect","clip":true},"encoding":{"x":{"field":"p0","type":"quantitative"},"x2":{"field":"p1"},"color":{"field":"st","type":"nominal"}}},
{"width":61,"height":11,"transform":[{"filter":{"field":"r","range":[31,34]}},{"stack":"v","groupby":[],"sort":[{"field":"v","order":"descending"}],"offset":"normalize","as":["p0","p1"]}],"mark":{"type":"rect","clip":true},"encoding":{"x":{"field":"p0","type":"quantitative"},"x2":{"field":"p1"},"color":{"field":"st","type":"nominal"}}},
{"width":61,"height":14,"transform":[{"filter":{"field":"r","range":[35,38]}},{"stack":"v","groupby":[],"sort":[{"field":"v","order":"descending"}],"offset":"normalize","as":["p0","p1"]}],"mark":{"type":"rect","clip":true},"encoding":{"x":{"field":"p0","type":"quantitative"},"x2":{"field":"p1"},"color":{"field":"st","type":"nominal"}}},
{"width":61,"height":12,"transform":[{"filter":{"field":"r","range":[39,43]}},{"stack":"v","groupby":[],"sort":[{"field":"v","order":"descending"}],"offset":"normalize","as":["p0","p1"]}],"mark":{"type":"rect","clip":true},"encoding":{"x":{"field":"p0","type":"quantitative"},"x2":{"field":"p1"},"color":{"field":"st","type":"nominal"}}},
{"width":61,"height":12,"transform":[{"filter":{"field":"r","range":[44,49]}},{"stack":"v","groupby":[],"sort":[{"field":"v","order":"descending"}],"offset":"normalize","as":["p0","p1"]}],"mark":{"type":"rect","clip":true},"encoding":{"x":{"field":"p0","type":"quantitative"},"x2":{"field":"p1"},"color":{"field":"st","type":"nominal"}}}
]}]}]}]}]}]},
{"spacing":4,"vconcat":[
{"transform":[{"filter":{"field":"s","equal":"Nguyên vật liệu"}},{"window":[{"op":"row_number","as":"r"}],"sort":[{"field":"v","order":"descending"}]}],"spacing":0,"vconcat":[
{"width":256,"height":17,"transform":[{"filter":{"field":"r","equal":1}}],"mark":{"type":"text","fontSize":12},"encoding":{"text":{"field":"s"}}},
{"spacing":0,"hconcat":[
{"width":118,"height":152,"transform":[{"filter":{"field":"r","range":[1,2]}},{"stack":"v","groupby":[],"sort":[{"field":"v"}],"offset":"normalize","as":["p0","p1"]}],"layer":[{"mark":{"type":"rect","clip":true},"encoding":{"y":{"field":"p0","type":"quantitative"},"y2":{"field":"p1"},"color":{"field":"st","type":"nominal"}}},{"transform":[{"filter":"datum.v>=250"},{"fold":["p0","p1"],"as":["k","q"]},{"aggregate":[{"op":"mean","field":"q","as":"m"},{"op":"stdevp","field":"q","as":"h"}],"groupby":["t","c","v"]}],"encoding":{"y":{"field":"m","type":"quantitative"}},"layer":[{"mark":{"type":"text","baseline":"bottom","dy":-1,"clip":true,"fontSize":{"expr":"min(63.8*datum.h,173.5/max(6,length(datum.t)))"}},"encoding":{"text":{"field":"t"}}},{"mark":{"type":"text","baseline":"top","dy":1,"clip":true,"fontSize":{"expr":"min(63.8*datum.h,173.5/max(6,length(datum.t)))"}},"encoding":{"text":{"field":"c","type":"quantitative","format":"+.2~%"}}}]}]},
{"spacing":0,"vconcat":[
{"width":138,"height":42,"transform":[{"filter":{"field":"r","range":[3,4]}},{"stack":"v","groupby":[],"sort":[{"field":"v","order":"descending"}],"offset":"normalize","as":["p0","p1"]}],"layer":[{"mark":{"type":"rect","clip":true},"encoding":{"x":{"field":"p0","type":"quantitative"},"x2":{"field":"p1"},"color":{"field":"st","type":"nominal"}}},{"transform":[{"filter":"datum.v>=250"},{"fold":["p0","p1"],"as":["k","q"]},{"aggregate":[{"op":"mean","field":"q","as":"m"},{"op":"stdevp","field":"q","as":"h"}],"groupby":["t","c","v"]}],"encoding":{"x":{"field":"m","type":"quantitative"}},"layer":[{"mark":{"type":"text","baseline":"bottom","dy":-1,"clip":true,"fontSize":{"expr":"min(8.82,405.7*datum.h/max(6,length(datum.t)))"}},"encoding":{"text":{"field":"t"}}},{"mark":{"type":"text","baseline":"top","dy":1,"clip":true,"fontSize":{"expr":"min(8.82,405.7*datum.h/max(6,length(datum.t)))"}},"encoding":{"text":{"field":"c","type":"quantitative","format":"+.2~%"}}}]}]},
{"spacing":0,"hconcat":[
{"width":44,"height":110,"transform":[{"filter":{"field":"r","range":[5,7]}},{"stack":"v","groupby":[],"sort":[{"field":"v"}],"offset":"normalize","as":["p0","p1"]}],"layer":[{"mark":{"type":"rect","clip":true},"encoding":{"y":{"field":"p0","type":"quantitative"},"y2":{"field":"p1"},"color":{"field":"st","type":"nominal"}}},{"transform":[{"filter":"datum.v>=250"},{"fold":["p0","p1"],"as":["k","q"]},{"aggregate":[{"op":"mean","field":"q","as":"m"},{"op":"stdevp","field":"q","as":"h"}],"groupby":["t","c","v"]}],"encoding":{"y":{"field":"m","type":"quantitative"}},"layer":[{"mark":{"type":"text","baseline":"bottom","dy":-1,"clip":true,"fontSize":{"expr":"min(46.2*datum.h,64.7/max(6,length(datum.t)))"}},"encoding":{"text":{"field":"t"}}},{"mark":{"type":"text","baseline":"top","dy":1,"clip":true,"fontSize":{"expr":"min(46.2*datum.h,64.7/max(6,length(datum.t)))"}},"encoding":{"text":{"field":"c","type":"quantitative","format":"+.2~%"}}}]}]},
{"spacing":0,"vconcat":[
{"width":94,"height":28,"transform":[{"filter":{"field":"r","range":[8,9]}},{"stack":"v","groupby":[],"sort":[{"field":"v","order":"descending"}],"offset":"normalize","as":["p0","p1"]}],"layer":[{"mark":{"type":"rect","clip":true},"encoding":{"x":{"field":"p0","type":"quantitative"},"x2":{"field":"p1"},"color":{"field":"st","type":"nominal"}}},{"transform":[{"filter":"datum.v>=250"},{"fold":["p0","p1"],"as":["k","q"]},{"aggregate":[{"op":"mean","field":"q","as":"m"},{"op":"stdevp","field":"q","as":"h"}],"groupby":["t","c","v"]}],"encoding":{"x":{"field":"m","type":"quantitative"}},"layer":[{"mark":{"type":"text","baseline":"bottom","dy":-0.5,"clip":true,"fontSize":{"expr":"min(5.88,276.4*datum.h/max(6,length(datum.t)))"}},"encoding":{"text":{"field":"t"}}},{"mark":{"type":"text","baseline":"top","dy":0.5,"clip":true,"fontSize":{"expr":"min(5.88,276.4*datum.h/max(6,length(datum.t)))"}},"encoding":{"text":{"field":"c","type":"quantitative","format":"+.2~%"}}}]}]},
{"spacing":0,"hconcat":[
{"width":26,"height":82,"transform":[{"filter":{"field":"r","range":[10,13]}},{"stack":"v","groupby":[],"sort":[{"field":"v"}],"offset":"normalize","as":["p0","p1"]}],"layer":[{"mark":{"type":"rect","clip":true},"encoding":{"y":{"field":"p0","type":"quantitative"},"y2":{"field":"p1"},"color":{"field":"st","type":"nominal"}}},{"transform":[{"filter":"datum.v>=250"},{"fold":["p0","p1"],"as":["k","q"]},{"aggregate":[{"op":"mean","field":"q","as":"m"},{"op":"stdevp","field":"q","as":"h"}],"groupby":["t","c","v"]}],"encoding":{"y":{"field":"m","type":"quantitative"}},"layer":[{"mark":{"type":"text","baseline":"bottom","dy":-0.5,"clip":true,"fontSize":{"expr":"min(34.4*datum.h,38.2/max(6,length(datum.t)))"}},"encoding":{"text":{"field":"t"}}},{"mark":{"type":"text","baseline":"top","dy":0.5,"clip":true,"fontSize":{"expr":"min(34.4*datum.h,38.2/max(6,length(datum.t)))"}},"encoding":{"text":{"field":"c","type":"quantitative","format":"+.2~%"}}}]}]},
{"spacing":0,"vconcat":[
{"width":68,"height":21,"transform":[{"filter":{"field":"r","range":[14,16]}},{"stack":"v","groupby":[],"sort":[{"field":"v","order":"descending"}],"offset":"normalize","as":["p0","p1"]}],"layer":[{"mark":{"type":"rect","clip":true},"encoding":{"x":{"field":"p0","type":"quantitative"},"x2":{"field":"p1"},"color":{"field":"st","type":"nominal"}}},{"transform":[{"filter":"datum.v>=250"},{"fold":["p0","p1"],"as":["k","q"]},{"aggregate":[{"op":"mean","field":"q","as":"m"},{"op":"stdevp","field":"q","as":"h"}],"groupby":["t","c","v"]}],"encoding":{"x":{"field":"m","type":"quantitative"}},"layer":[{"mark":{"type":"text","baseline":"bottom","dy":-0.5,"clip":true,"fontSize":{"expr":"min(4.41,200*datum.h/max(6,length(datum.t)))"}},"encoding":{"text":{"field":"t"}}},{"mark":{"type":"text","baseline":"top","dy":0.5,"clip":true,"fontSize":{"expr":"min(4.41,200*datum.h/max(6,length(datum.t)))"}},"encoding":{"text":{"field":"c","type":"quantitative","format":"+.2~%"}}}]}]},
{"width":68,"height":14,"transform":[{"filter":{"field":"r","range":[17,19]}},{"stack":"v","groupby":[],"sort":[{"field":"v","order":"descending"}],"offset":"normalize","as":["p0","p1"]}],"layer":[{"mark":{"type":"rect","clip":true},"encoding":{"x":{"field":"p0","type":"quantitative"},"x2":{"field":"p1"},"color":{"field":"st","type":"nominal"}}},{"transform":[{"filter":"datum.v>=250"},{"fold":["p0","p1"],"as":["k","q"]},{"aggregate":[{"op":"mean","field":"q","as":"m"},{"op":"stdevp","field":"q","as":"h"}],"groupby":["t","c","v"]}],"encoding":{"x":{"field":"m","type":"quantitative"}},"layer":[{"mark":{"type":"text","baseline":"bottom","dy":-0.5,"clip":true,"fontSize":{"expr":"min(2.94,200*datum.h/max(6,length(datum.t)))"}},"encoding":{"text":{"field":"t"}}},{"mark":{"type":"text","baseline":"top","dy":0.5,"clip":true,"fontSize":{"expr":"min(2.94,200*datum.h/max(6,length(datum.t)))"}},"encoding":{"text":{"field":"c","type":"quantitative","format":"+.2~%"}}}]}]},
{"spacing":0,"hconcat":[
{"width":16,"height":47,"transform":[{"filter":{"field":"r","range":[20,22]}},{"stack":"v","groupby":[],"sort":[{"field":"v"}],"offset":"normalize","as":["p0","p1"]}],"layer":[{"mark":{"type":"rect","clip":true},"encoding":{"y":{"field":"p0","type":"quantitative"},"y2":{"field":"p1"},"color":{"field":"st","type":"nominal"}}},{"transform":[{"filter":"datum.v>=250"},{"fold":["p0","p1"],"as":["k","q"]},{"aggregate":[{"op":"mean","field":"q","as":"m"},{"op":"stdevp","field":"q","as":"h"}],"groupby":["t","c","v"]}],"encoding":{"y":{"field":"m","type":"quantitative"}},"layer":[{"mark":{"type":"text","baseline":"bottom","dy":-0.5,"clip":true,"fontSize":{"expr":"min(19.7*datum.h,23.5/max(6,length(datum.t)))"}},"encoding":{"text":{"field":"t"}}},{"mark":{"type":"text","baseline":"top","dy":0.5,"clip":true,"fontSize":{"expr":"min(19.7*datum.h,23.5/max(6,length(datum.t)))"}},"encoding":{"text":{"field":"c","type":"quantitative","format":"+.2~%"}}}]}]},
{"spacing":0,"vconcat":[
{"width":52,"height":10,"transform":[{"filter":{"field":"r","range":[23,25]}},{"stack":"v","groupby":[],"sort":[{"field":"v","order":"descending"}],"offset":"normalize","as":["p0","p1"]}],"mark":{"type":"rect","clip":true},"encoding":{"x":{"field":"p0","type":"quantitative"},"x2":{"field":"p1"},"color":{"field":"st","type":"nominal"}}},
{"width":52,"height":10,"transform":[{"filter":{"field":"r","range":[26,29]}},{"stack":"v","groupby":[],"sort":[{"field":"v","order":"descending"}],"offset":"normalize","as":["p0","p1"]}],"mark":{"type":"rect","clip":true},"encoding":{"x":{"field":"p0","type":"quantitative"},"x2":{"field":"p1"},"color":{"field":"st","type":"nominal"}}},
{"width":52,"height":9,"transform":[{"filter":{"field":"r","range":[30,34]}},{"stack":"v","groupby":[],"sort":[{"field":"v","order":"descending"}],"offset":"normalize","as":["p0","p1"]}],"mark":{"type":"rect","clip":true},"encoding":{"x":{"field":"p0","type":"quantitative"},"x2":{"field":"p1"},"color":{"field":"st","type":"nominal"}}},
{"width":52,"height":9,"transform":[{"filter":{"field":"r","range":[35,39]}},{"stack":"v","groupby":[],"sort":[{"field":"v","order":"descending"}],"offset":"normalize","as":["p0","p1"]}],"mark":{"type":"rect","clip":true},"encoding":{"x":{"field":"p0","type":"quantitative"},"x2":{"field":"p1"},"color":{"field":"st","type":"nominal"}}},
{"width":52,"height":9,"transform":[{"filter":{"field":"r","range":[40,48]}},{"stack":"v","groupby":[],"sort":[{"field":"v","order":"descending"}],"offset":"normalize","as":["p0","p1"]}],"mark":{"type":"rect","clip":true},"encoding":{"x":{"field":"p0","type":"quantitative"},"x2":{"field":"p1"},"color":{"field":"st","type":"nominal"}}}
]}]}]}]}]}]}]}]}]},
{"transform":[{"filter":{"field":"s","equal":"Tiêu dùng thiết yếu"}},{"window":[{"op":"row_number","as":"r"}],"sort":[{"field":"v","order":"descending"}]}],"spacing":0,"vconcat":[
{"width":256,"height":18,"transform":[{"filter":{"field":"r","equal":1}}],"mark":{"type":"text","fontSize":12},"encoding":{"text":{"field":"s"}}},
{"spacing":0,"hconcat":[
{"width":92,"height":102,"transform":[{"filter":{"field":"r","range":[1,1]}},{"stack":"v","groupby":[],"sort":[{"field":"v"}],"offset":"normalize","as":["p0","p1"]}],"layer":[{"mark":{"type":"rect","clip":true},"encoding":{"y":{"field":"p0","type":"quantitative"},"y2":{"field":"p1"},"color":{"field":"st","type":"nominal"}}},{"transform":[{"filter":"datum.v>=250"},{"fold":["p0","p1"],"as":["k","q"]},{"aggregate":[{"op":"mean","field":"q","as":"m"},{"op":"stdevp","field":"q","as":"h"}],"groupby":["t","c","v"]}],"encoding":{"y":{"field":"m","type":"quantitative"}},"layer":[{"mark":{"type":"text","baseline":"bottom","dy":-1,"clip":true,"fontSize":{"expr":"min(42.8*datum.h,135.2/max(6,length(datum.t)))"}},"encoding":{"text":{"field":"t"}}},{"mark":{"type":"text","baseline":"top","dy":1,"clip":true,"fontSize":{"expr":"min(42.8*datum.h,135.2/max(6,length(datum.t)))"}},"encoding":{"text":{"field":"c","type":"quantitative","format":"+.2~%"}}}]}]},
{"width":74,"height":102,"transform":[{"filter":{"field":"r","range":[2,3]}},{"stack":"v","groupby":[],"sort":[{"field":"v"}],"offset":"normalize","as":["p0","p1"]}],"layer":[{"mark":{"type":"rect","clip":true},"encoding":{"y":{"field":"p0","type":"quantitative"},"y2":{"field":"p1"},"color":{"field":"st","type":"nominal"}}},{"transform":[{"filter":"datum.v>=250"},{"fold":["p0","p1"],"as":["k","q"]},{"aggregate":[{"op":"mean","field":"q","as":"m"},{"op":"stdevp","field":"q","as":"h"}],"groupby":["t","c","v"]}],"encoding":{"y":{"field":"m","type":"quantitative"}},"layer":[{"mark":{"type":"text","baseline":"bottom","dy":-1,"clip":true,"fontSize":{"expr":"min(42.8*datum.h,108.8/max(6,length(datum.t)))"}},"encoding":{"text":{"field":"t"}}},{"mark":{"type":"text","baseline":"top","dy":1,"clip":true,"fontSize":{"expr":"min(42.8*datum.h,108.8/max(6,length(datum.t)))"}},"encoding":{"text":{"field":"c","type":"quantitative","format":"+.2~%"}}}]}]},
{"spacing":0,"vconcat":[
{"width":90,"height":26,"transform":[{"filter":{"field":"r","range":[4,5]}},{"stack":"v","groupby":[],"sort":[{"field":"v","order":"descending"}],"offset":"normalize","as":["p0","p1"]}],"layer":[{"mark":{"type":"rect","clip":true},"encoding":{"x":{"field":"p0","type":"quantitative"},"x2":{"field":"p1"},"color":{"field":"st","type":"nominal"}}},{"transform":[{"filter":"datum.v>=250"},{"fold":["p0","p1"],"as":["k","q"]},{"aggregate":[{"op":"mean","field":"q","as":"m"},{"op":"stdevp","field":"q","as":"h"}],"groupby":["t","c","v"]}],"encoding":{"x":{"field":"m","type":"quantitative"}},"layer":[{"mark":{"type":"text","baseline":"bottom","dy":-0.5,"clip":true,"fontSize":{"expr":"min(5.46,264.6*datum.h/max(6,length(datum.t)))"}},"encoding":{"text":{"field":"t"}}},{"mark":{"type":"text","baseline":"top","dy":0.5,"clip":true,"fontSize":{"expr":"min(5.46,264.6*datum.h/max(6,length(datum.t)))"}},"encoding":{"text":{"field":"c","type":"quantitative","format":"+.2~%"}}}]}]},
{"spacing":0,"hconcat":[
{"width":30,"height":76,"transform":[{"filter":{"field":"r","range":[6,8]}},{"stack":"v","groupby":[],"sort":[{"field":"v"}],"offset":"normalize","as":["p0","p1"]}],"layer":[{"mark":{"type":"rect","clip":true},"encoding":{"y":{"field":"p0","type":"quantitative"},"y2":{"field":"p1"},"color":{"field":"st","type":"nominal"}}},{"transform":[{"filter":"datum.v>=250"},{"fold":["p0","p1"],"as":["k","q"]},{"aggregate":[{"op":"mean","field":"q","as":"m"},{"op":"stdevp","field":"q","as":"h"}],"groupby":["t","c","v"]}],"encoding":{"y":{"field":"m","type":"quantitative"}},"layer":[{"mark":{"type":"text","baseline":"bottom","dy":-0.5,"clip":true,"fontSize":{"expr":"min(31.9*datum.h,44.1/max(6,length(datum.t)))"}},"encoding":{"text":{"field":"t"}}},{"mark":{"type":"text","baseline":"top","dy":0.5,"clip":true,"fontSize":{"expr":"min(31.9*datum.h,44.1/max(6,length(datum.t)))"}},"encoding":{"text":{"field":"c","type":"quantitative","format":"+.2~%"}}}]}]},
{"spacing":0,"vconcat":[
{"width":60,"height":26,"transform":[{"filter":{"field":"r","range":[9,10]}},{"stack":"v","groupby":[],"sort":[{"field":"v","order":"descending"}],"offset":"normalize","as":["p0","p1"]}],"layer":[{"mark":{"type":"rect","clip":true},"encoding":{"x":{"field":"p0","type":"quantitative"},"x2":{"field":"p1"},"color":{"field":"st","type":"nominal"}}},{"transform":[{"filter":"datum.v>=250"},{"fold":["p0","p1"],"as":["k","q"]},{"aggregate":[{"op":"mean","field":"q","as":"m"},{"op":"stdevp","field":"q","as":"h"}],"groupby":["t","c","v"]}],"encoding":{"x":{"field":"m","type":"quantitative"}},"layer":[{"mark":{"type":"text","baseline":"bottom","dy":-0.5,"clip":true,"fontSize":{"expr":"min(5.46,176.4*datum.h/max(6,length(datum.t)))"}},"encoding":{"text":{"field":"t"}}},{"mark":{"type":"text","baseline":"top","dy":0.5,"clip":true,"fontSize":{"expr":"min(5.46,176.4*datum.h/max(6,length(datum.t)))"}},"encoding":{"text":{"field":"c","type":"quantitative","format":"+.2~%"}}}]}]},
{"spacing":0,"hconcat":[
{"width":24,"height":50,"transform":[{"filter":{"field":"r","range":[11,13]}},{"stack":"v","groupby":[],"sort":[{"field":"v"}],"offset":"normalize","as":["p0","p1"]}],"layer":[{"mark":{"type":"rect","clip":true},"encoding":{"y":{"field":"p0","type":"quantitative"},"y2":{"field":"p1"},"color":{"field":"st","type":"nominal"}}},{"transform":[{"filter":"datum.v>=250"},{"fold":["p0","p1"],"as":["k","q"]},{"aggregate":[{"op":"mean","field":"q","as":"m"},{"op":"stdevp","field":"q","as":"h"}],"groupby":["t","c","v"]}],"encoding":{"y":{"field":"m","type":"quantitative"}},"layer":[{"mark":{"type":"text","baseline":"bottom","dy":-0.5,"clip":true,"fontSize":{"expr":"min(21*datum.h,35.3/max(6,length(datum.t)))"}},"encoding":{"text":{"field":"t"}}},{"mark":{"type":"text","baseline":"top","dy":0.5,"clip":true,"fontSize":{"expr":"min(21*datum.h,35.3/max(6,length(datum.t)))"}},"encoding":{"text":{"field":"c","type":"quantitative","format":"+.2~%"}}}]}]},
{"spacing":0,"vconcat":[
{"width":36,"height":12,"transform":[{"filter":{"field":"r","range":[14,15]}},{"stack":"v","groupby":[],"sort":[{"field":"v","order":"descending"}],"offset":"normalize","as":["p0","p1"]}],"mark":{"type":"rect","clip":true},"encoding":{"x":{"field":"p0","type":"quantitative"},"x2":{"field":"p1"},"color":{"field":"st","type":"nominal"}}},
{"width":36,"height":10,"transform":[{"filter":{"field":"r","range":[16,17]}},{"stack":"v","groupby":[],"sort":[{"field":"v","order":"descending"}],"offset":"normalize","as":["p0","p1"]}],"mark":{"type":"rect","clip":true},"encoding":{"x":{"field":"p0","type":"quantitative"},"x2":{"field":"p1"},"color":{"field":"st","type":"nominal"}}},
{"width":36,"height":10,"transform":[{"filter":{"field":"r","range":[18,20]}},{"stack":"v","groupby":[],"sort":[{"field":"v","order":"descending"}],"offset":"normalize","as":["p0","p1"]}],"mark":{"type":"rect","clip":true},"encoding":{"x":{"field":"p0","type":"quantitative"},"x2":{"field":"p1"},"color":{"field":"st","type":"nominal"}}},
{"width":36,"height":9,"transform":[{"filter":{"field":"r","range":[21,24]}},{"stack":"v","groupby":[],"sort":[{"field":"v","order":"descending"}],"offset":"normalize","as":["p0","p1"]}],"mark":{"type":"rect","clip":true},"encoding":{"x":{"field":"p0","type":"quantitative"},"x2":{"field":"p1"},"color":{"field":"st","type":"nominal"}}},
{"width":36,"height":9,"transform":[{"filter":{"field":"r","range":[25,28]}},{"stack":"v","groupby":[],"sort":[{"field":"v","order":"descending"}],"offset":"normalize","as":["p0","p1"]}],"mark":{"type":"rect","clip":true},"encoding":{"x":{"field":"p0","type":"quantitative"},"x2":{"field":"p1"},"color":{"field":"st","type":"nominal"}}}
]}]}]}]}]}]}]},
{"transform":[{"filter":{"field":"s","equal":"Tiêu dùng không thiết yếu"}},{"window":[{"op":"row_number","as":"r"}],"sort":[{"field":"v","order":"descending"}]}],"spacing":0,"vconcat":[
{"width":256,"height":18,"transform":[{"filter":{"field":"r","equal":1}}],"mark":{"type":"text","fontSize":12},"encoding":{"text":{"field":"s"}}},
{"spacing":0,"hconcat":[
{"width":88,"height":93,"transform":[{"filter":{"field":"r","range":[1,1]}},{"stack":"v","groupby":[],"sort":[{"field":"v"}],"offset":"normalize","as":["p0","p1"]}],"layer":[{"mark":{"type":"rect","clip":true},"encoding":{"y":{"field":"p0","type":"quantitative"},"y2":{"field":"p1"},"color":{"field":"st","type":"nominal"}}},{"transform":[{"filter":"datum.v>=250"},{"fold":["p0","p1"],"as":["k","q"]},{"aggregate":[{"op":"mean","field":"q","as":"m"},{"op":"stdevp","field":"q","as":"h"}],"groupby":["t","c","v"]}],"encoding":{"y":{"field":"m","type":"quantitative"}},"layer":[{"mark":{"type":"text","baseline":"bottom","dy":-1,"clip":true,"fontSize":{"expr":"min(39.1*datum.h,129.4/max(6,length(datum.t)))"}},"encoding":{"text":{"field":"t"}}},{"mark":{"type":"text","baseline":"top","dy":1,"clip":true,"fontSize":{"expr":"min(39.1*datum.h,129.4/max(6,length(datum.t)))"}},"encoding":{"text":{"field":"c","type":"quantitative","format":"+.2~%"}}}]}]},
{"width":63,"height":93,"transform":[{"filter":{"field":"r","range":[2,3]}},{"stack":"v","groupby":[],"sort":[{"field":"v"}],"offset":"normalize","as":["p0","p1"]}],"layer":[{"mark":{"type":"rect","clip":true},"encoding":{"y":{"field":"p0","type":"quantitative"},"y2":{"field":"p1"},"color":{"field":"st","type":"nominal"}}},{"transform":[{"filter":"datum.v>=250"},{"fold":["p0","p1"],"as":["k","q"]},{"aggregate":[{"op":"mean","field":"q","as":"m"},{"op":"stdevp","field":"q","as":"h"}],"groupby":["t","c","v"]}],"encoding":{"y":{"field":"m","type":"quantitative"}},"layer":[{"mark":{"type":"text","baseline":"bottom","dy":-1,"clip":true,"fontSize":{"expr":"min(39.1*datum.h,92.6/max(6,length(datum.t)))"}},"encoding":{"text":{"field":"t"}}},{"mark":{"type":"text","baseline":"top","dy":1,"clip":true,"fontSize":{"expr":"min(39.1*datum.h,92.6/max(6,length(datum.t)))"}},"encoding":{"text":{"field":"c","type":"quantitative","format":"+.2~%"}}}]}]},
{"width":40,"height":93,"transform":[{"filter":{"field":"r","range":[4,6]}},{"stack":"v","groupby":[],"sort":[{"field":"v"}],"offset":"normalize","as":["p0","p1"]}],"layer":[{"mark":{"type":"rect","clip":true},"encoding":{"y":{"field":"p0","type":"quantitative"},"y2":{"field":"p1"},"color":{"field":"st","type":"nominal"}}},{"transform":[{"filter":"datum.v>=250"},{"fold":["p0","p1"],"as":["k","q"]},{"aggregate":[{"op":"mean","field":"q","as":"m"},{"op":"stdevp","field":"q","as":"h"}],"groupby":["t","c","v"]}],"encoding":{"y":{"field":"m","type":"quantitative"}},"layer":[{"mark":{"type":"text","baseline":"bottom","dy":-1,"clip":true,"fontSize":{"expr":"min(39.1*datum.h,58.8/max(6,length(datum.t)))"}},"encoding":{"text":{"field":"t"}}},{"mark":{"type":"text","baseline":"top","dy":1,"clip":true,"fontSize":{"expr":"min(39.1*datum.h,58.8/max(6,length(datum.t)))"}},"encoding":{"text":{"field":"c","type":"quantitative","format":"+.2~%"}}}]}]},
{"spacing":0,"vconcat":[
{"width":65,"height":26,"transform":[{"filter":{"field":"r","range":[7,8]}},{"stack":"v","groupby":[],"sort":[{"field":"v","order":"descending"}],"offset":"normalize","as":["p0","p1"]}],"layer":[{"mark":{"type":"rect","clip":true},"encoding":{"x":{"field":"p0","type":"quantitative"},"x2":{"field":"p1"},"color":{"field":"st","type":"nominal"}}},{"transform":[{"filter":"datum.v>=250"},{"fold":["p0","p1"],"as":["k","q"]},{"aggregate":[{"op":"mean","field":"q","as":"m"},{"op":"stdevp","field":"q","as":"h"}],"groupby":["t","c","v"]}],"encoding":{"x":{"field":"m","type":"quantitative"}},"layer":[{"mark":{"type":"text","baseline":"bottom","dy":-0.5,"clip":true,"fontSize":{"expr":"min(5.46,191.1*datum.h/max(6,length(datum.t)))"}},"encoding":{"text":{"field":"t"}}},{"mark":{"type":"text","baseline":"top","dy":0.5,"clip":true,"fontSize":{"expr":"min(5.46,191.1*datum.h/max(6,length(datum.t)))"}},"encoding":{"text":{"field":"c","type":"quantitative","format":"+.2~%"}}}]}]},
{"width":65,"height":23,"transform":[{"filter":{"field":"r","range":[9,11]}},{"stack":"v","groupby":[],"sort":[{"field":"v","order":"descending"}],"offset":"normalize","as":["p0","p1"]}],"layer":[{"mark":{"type":"rect","clip":true},"encoding":{"x":{"field":"p0","type":"quantitative"},"x2":{"field":"p1"},"color":{"field":"st","type":"nominal"}}},{"transform":[{"filter":"datum.v>=250"},{"fold":["p0","p1"],"as":["k","q"]},{"aggregate":[{"op":"mean","field":"q","as":"m"},{"op":"stdevp","field":"q","as":"h"}],"groupby":["t","c","v"]}],"encoding":{"x":{"field":"m","type":"quantitative"}},"layer":[{"mark":{"type":"text","baseline":"bottom","dy":-0.5,"clip":true,"fontSize":{"expr":"min(4.83,191.1*datum.h/max(6,length(datum.t)))"}},"encoding":{"text":{"field":"t"}}},{"mark":{"type":"text","baseline":"top","dy":0.5,"clip":true,"fontSize":{"expr":"min(4.83,191.1*datum.h/max(6,length(datum.t)))"}},"encoding":{"text":{"field":"c","type":"quantitative","format":"+.2~%"}}}]}]},
{"spacing":0,"hconcat":[
{"width":17,"height":44,"transform":[{"filter":{"field":"r","range":[12,14]}},{"stack":"v","groupby":[],"sort":[{"field":"v"}],"offset":"normalize","as":["p0","p1"]}],"layer":[{"mark":{"type":"rect","clip":true},"encoding":{"y":{"field":"p0","type":"quantitative"},"y2":{"field":"p1"},"color":{"field":"st","type":"nominal"}}},{"transform":[{"filter":"datum.v>=250"},{"fold":["p0","p1"],"as":["k","q"]},{"aggregate":[{"op":"mean","field":"q","as":"m"},{"op":"stdevp","field":"q","as":"h"}],"groupby":["t","c","v"]}],"encoding":{"y":{"field":"m","type":"quantitative"}},"layer":[{"mark":{"type":"text","baseline":"bottom","dy":-0.5,"clip":true,"fontSize":{"expr":"min(18.5*datum.h,25/max(6,length(datum.t)))"}},"encoding":{"text":{"field":"t"}}},{"mark":{"type":"text","baseline":"top","dy":0.5,"clip":true,"fontSize":{"expr":"min(18.5*datum.h,25/max(6,length(datum.t)))"}},"encoding":{"text":{"field":"c","type":"quantitative","format":"+.2~%"}}}]}]},
{"spacing":0,"vconcat":[
{"width":48,"height":10,"transform":[{"filter":{"field":"r","range":[15,17]}},{"stack":"v","groupby":[],"sort":[{"field":"v","order":"descending"}],"offset":"normalize","as":["p0","p1"]}],"mark":{"type":"rect","clip":true},"encoding":{"x":{"field":"p0","type":"quantitative"},"x2":{"field":"p1"},"color":{"field":"st","type":"nominal"}}},
{"width":48,"height":8,"transform":[{"filter":{"field":"r","range":[18,20]}},{"stack":"v","groupby":[],"sort":[{"field":"v","order":"descending"}],"offset":"normalize","as":["p0","p1"]}],"mark":{"type":"rect","clip":true},"encoding":{"x":{"field":"p0","type":"quantitative"},"x2":{"field":"p1"},"color":{"field":"st","type":"nominal"}}},
{"width":48,"height":10,"transform":[{"filter":{"field":"r","range":[21,23]}},{"stack":"v","groupby":[],"sort":[{"field":"v","order":"descending"}],"offset":"normalize","as":["p0","p1"]}],"mark":{"type":"rect","clip":true},"encoding":{"x":{"field":"p0","type":"quantitative"},"x2":{"field":"p1"},"color":{"field":"st","type":"nominal"}}},
{"width":48,"height":8,"transform":[{"filter":{"field":"r","range":[24,27]}},{"stack":"v","groupby":[],"sort":[{"field":"v","order":"descending"}],"offset":"normalize","as":["p0","p1"]}],"mark":{"type":"rect","clip":true},"encoding":{"x":{"field":"p0","type":"quantitative"},"x2":{"field":"p1"},"color":{"field":"st","type":"nominal"}}},
{"width":48,"height":8,"transform":[{"filter":{"field":"r","range":[28,31]}},{"stack":"v","groupby":[],"sort":[{"field":"v","order":"descending"}],"offset":"normalize","as":["p0","p1"]}],"mark":{"type":"rect","clip":true},"encoding":{"x":{"field":"p0","type":"quantitative"},"x2":{"field":"p1"},"color":{"field":"st","type":"nominal"}}}
]}]}]}]}]}]}
]}
